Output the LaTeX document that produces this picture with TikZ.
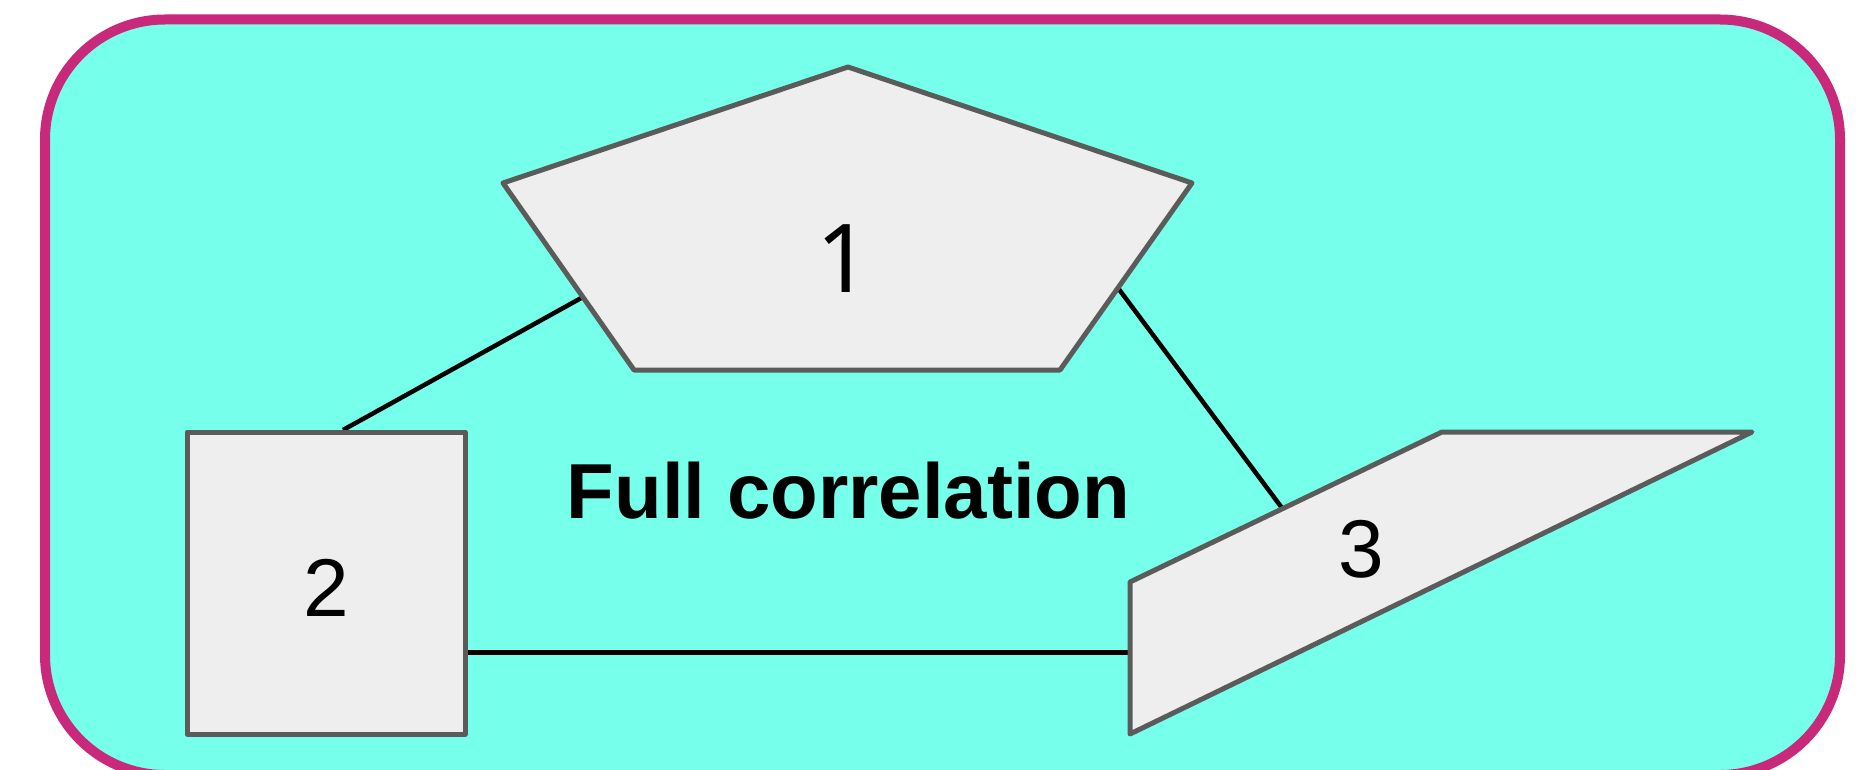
\documentclass[tikz,border=0pt]{standalone}
\usepackage{fontspec}
\setmainfont{Liberation Sans}
\newfontfamily\onefont{Noto Sans}
\definecolor{bgcyan}{RGB}{118,255,234}
\definecolor{bordermag}{RGB}{201,41,123}
\definecolor{shapefill}{RGB}{238,238,238}
\definecolor{shapeline}{RGB}{91,91,91}
\begin{document}
\begin{tikzpicture}[x=1pt,y=-1pt,
  shapebox/.style={draw=shapeline,fill=shapefill,line width=5pt,line join=round},
  link/.style={draw=black,line width=4.5pt},
  digit/.style={anchor=base,inner sep=0pt,font=\fontsize{82}{98}\selectfont},
  bigdigit/.style={anchor=base,inner sep=0pt,font=\onefont\fontsize{95}{114}\selectfont},
  caption/.style={anchor=base,inner sep=0pt,font=\fontsize{78}{94}\selectfont\bfseries}]
\useasboundingbox (0,0) rectangle (1865,770);
\clip (0,0) rectangle (1865,770);
% container
\draw[line width=10pt,draw=bordermag,fill=bgcyan,rounded corners=120pt] (45,19.5) rectangle (1840,775);
% connector end points
\coordinate (s2top) at (343,430);
\coordinate (p1left) at (583,297);
\coordinate (p1right) at (1118,288);
\coordinate (q3top) at (1282,508);
\coordinate (s2right) at (465,652.5);
\coordinate (q3left) at (1130,652.5);
% connectors
\draw[link] (s2top) -- (p1left);
\draw[link] (p1right) -- (q3top);
\draw[link] (s2right) -- (q3left);
% shape 1: pentagon
\path[shapebox] (848,67) -- (1192,183) -- (1060,370) -- (634,370) -- (503,183) -- cycle;
% shape 2: square
\path[shapebox] (187,432) rectangle (465,734);
% shape 3: slanted quadrilateral
\path[shapebox] (1130,734) -- (1130,582) -- (1442,432) -- (1752,432) -- cycle;
% labels
\node[bigdigit] (n1) at (844,292) {1};
\node[digit] (n2) at (326,616) {2};
\node[digit] (n3) at (1361,577) {3};
\node[caption] (cap) at (848.5,518.5) {Full correlation};
\end{tikzpicture}
\end{document}
